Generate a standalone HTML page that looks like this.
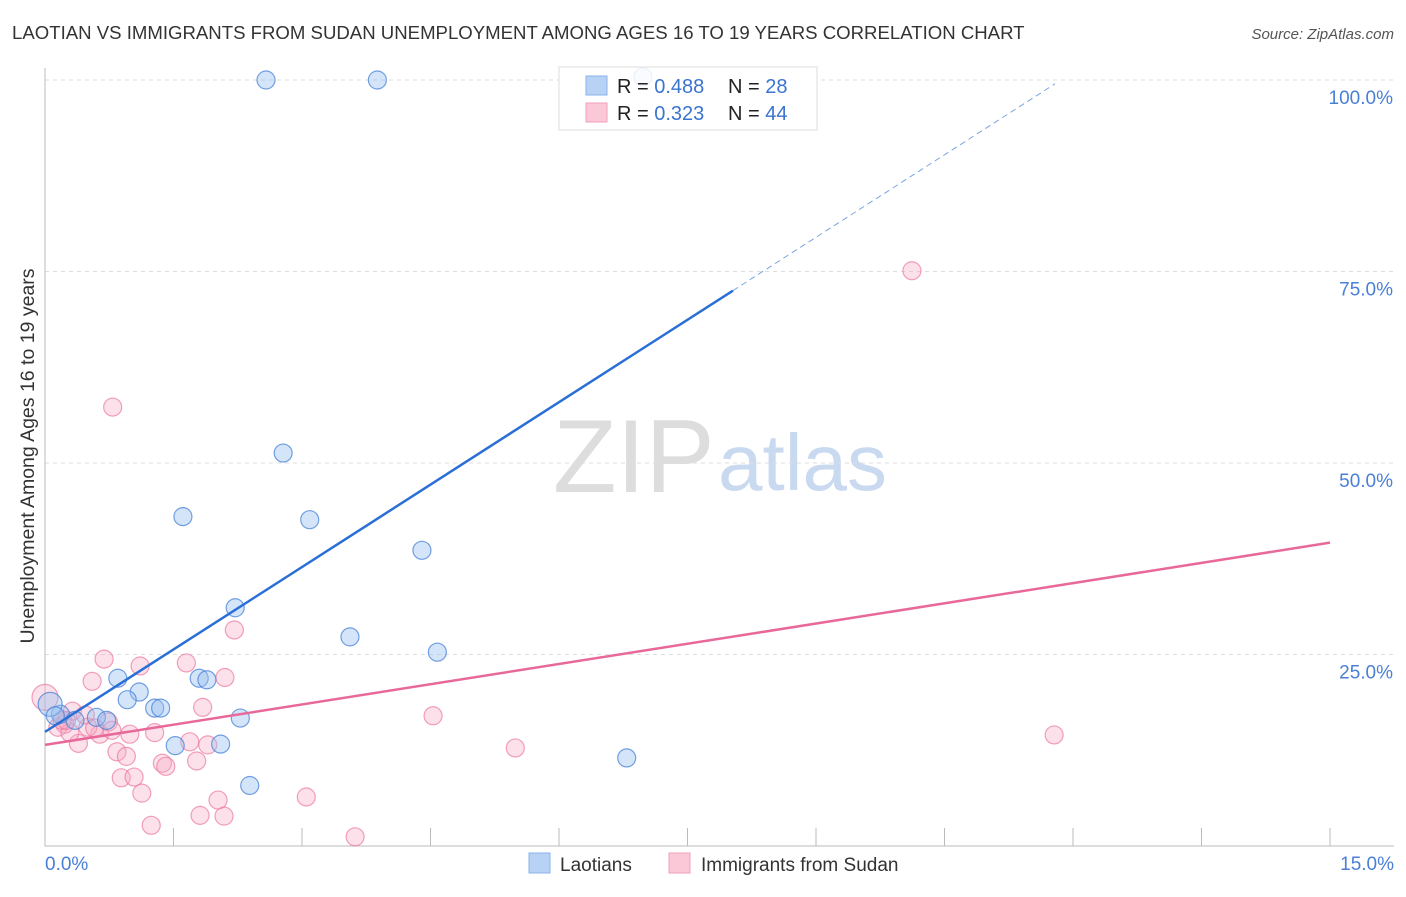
<!DOCTYPE html>
<html><head><meta charset="utf-8"><style>
body{margin:0;background:#fff;font-family:"Liberation Sans",sans-serif;}
svg text{font-family:"Liberation Sans",sans-serif;}
</style></head><body>
<svg id="chart" width="1406" height="892">
<text x="12" y="39" font-size="18.6" fill="#333">LAOTIAN VS IMMIGRANTS FROM SUDAN UNEMPLOYMENT AMONG AGES 16 TO 19 YEARS CORRELATION CHART</text>
<text x="1394" y="39" font-size="15" fill="#555" font-style="italic" text-anchor="end">Source: ZipAtlas.com</text>
<text x="0" y="0" transform="translate(34,456) rotate(-90)" font-size="19.5" fill="#333" text-anchor="middle">Unemployment Among Ages 16 to 19 years</text>
<g><text x="553" y="492" font-size="104" font-family="Liberation Serif" fill="#ddd">ZIP</text><text x="718" y="490" font-size="80" fill="#c9d9f0">atlas</text></g>
<g id="grid"></g><g id="axes"></g><g id="pts"></g><g id="lines"></g>
<g>
<rect x="559" y="67" width="258" height="63" fill="rgba(255,255,255,0.85)" stroke="#ddd"/>
<rect x="586" y="76" width="21" height="19" fill="#b8d2f5" stroke="#8ab3ea"/>
<rect x="586" y="103" width="21" height="19" fill="#fac8d6" stroke="#f0a0b8"/>
<text x="617" y="93" font-size="20" fill="#222">R = <tspan fill="#3a74d0">0.488</tspan><tspan x="728">N = </tspan><tspan fill="#3a74d0">28</tspan></text>
<text x="617" y="120" font-size="20" fill="#222">R = <tspan fill="#3a74d0"> 0.323</tspan><tspan x="728">N = </tspan><tspan fill="#3a74d0">44</tspan></text>
</g>
<g>
<rect x="529" y="853" width="21" height="20" fill="#b8d2f5" stroke="#8ab3ea"/>
<text x="560" y="871" font-size="19" fill="#333">Laotians</text>
<rect x="669" y="853" width="21" height="20" fill="#fac8d6" stroke="#f0a0b8"/>
<text x="701" y="871" font-size="19" fill="#333">Immigrants from Sudan</text>
</g>
</svg>
<script>
const yTicks=[25,50,75,100];
const yTickLabels=["25.0%","50.0%","75.0%","100.0%"];
const xTickLabels=["0.0%","15.0%"];
const blueX=[2.58,3.88,6.98,2.78,1.61,3.09,4.40,2.22,3.56,4.58,0.85,1.10,0.96,1.28,1.35,1.80,1.89,2.28,0.60,0.18,0.72,1.52,2.05,2.39,6.79,0.06,0.35,0.12];
const blueY=[100,100,100.4,51.3,43.0,42.6,38.6,31.1,27.3,25.3,21.9,20.1,19.1,18.0,18.0,21.9,21.7,16.7,16.8,17.2,16.4,13.1,13.3,7.9,11.5,18.5,16.4,17.0];
const pinkX=[0.79,10.12,2.21,0.69,1.11,1.65,2.10,0.55,1.84,4.53,11.78,5.49,0.99,1.28,1.69,1.90,0.84,1.37,0.95,1.77,1.41,0.89,1.04,1.13,2.02,3.05,1.24,1.81,2.09,3.62,0.39,0.64,0.23,0.15,0.32,0.50,0.0,0.74,0.29,0.20,0.47,0.58,0.78,0.25];
const pinkY=[57.3,75.1,28.2,24.4,23.5,23.9,22.0,21.5,18.1,17.0,14.5,12.8,14.6,14.8,13.6,13.2,12.3,10.8,11.7,11.1,10.4,8.9,9.0,6.9,6.0,6.4,2.7,4.0,3.9,1.2,13.4,14.6,15.9,15.5,17.6,15.5,19.4,16.2,14.8,16.4,17.1,15.4,15.1,16.4];
const blueLine={x0:0,y0:14.9,x1:8.03,y1:72.5,x2:11.79,y2:99.5};
const pinkLine={x0:0,y0:13.2,x1:15,y1:39.6};
const X=v=>45+v/15*1285, Y=v=>846-v/100*766;
const NS="http://www.w3.org/2000/svg";
function mk(p,t,a){const e=document.createElementNS(NS,t);for(const k in a)e.setAttribute(k,a[k]);document.getElementById(p).appendChild(e);return e;}
yTicks.forEach((t,i)=>{
 const g=mk('grid','line',{x1:45,x2:1394,y1:Y(t),y2:Y(t),stroke:'#ddd','stroke-dasharray':'4,4'});
 
 
 const l=mk('grid','text',{x:1393,y:Y(t)+24,'font-size':19,fill:'#4a7fd6','text-anchor':'end'});
 l.textContent=yTickLabels[i];
 
 
});
const ax=mk('axes','path',{d:'M45,68V846H1394',stroke:'#bbb',fill:'none'});


for(let i=0;i<=10;i++){const v=i*1.5;const t=mk('axes','line',{x1:X(v),x2:X(v),y1:828,y2:846,stroke:'#bbb'});
 
 }
[[0,'start',X(0)],[15,'end',1394]].forEach((d,i)=>{const t=mk('axes','text',{x:d[2],y:870,'font-size':19,fill:'#4a7fd6','text-anchor':d[1]});t.textContent=xTickLabels[i];
 
 });
pinkX.forEach((x,i)=>{const r=(x===0)?13:9;const c=mk('pts','circle',{cx:X(x),cy:Y(pinkY[i]),r:r,fill:'rgba(247,170,195,0.35)',stroke:'rgba(236,120,160,0.7)','stroke-width':1.2});
 
 });
blueX.forEach((x,i)=>{const r=(x<0.1)?12:9;const c=mk('pts','circle',{cx:X(x),cy:Y(blueY[i]),r:r,fill:'rgba(150,190,240,0.4)',stroke:'rgba(70,130,215,0.75)','stroke-width':1.2});
 
 });
let l=mk('lines','line',{x1:X(blueLine.x0),y1:Y(blueLine.y0),x2:X(blueLine.x1),y2:Y(blueLine.y1),stroke:'#2a6fd6','stroke-width':2.5});


l=mk('lines','line',{x1:X(blueLine.x1),y1:Y(blueLine.y1),x2:X(blueLine.x2),y2:Y(blueLine.y2),stroke:'#7aa5e0','stroke-width':1,'stroke-dasharray':'6,4'});


l=mk('lines','line',{x1:X(pinkLine.x0),y1:Y(pinkLine.y0),x2:X(pinkLine.x1),y2:Y(pinkLine.y1),stroke:'#e8689a','stroke-width':2.5});


</script>
</body></html>
